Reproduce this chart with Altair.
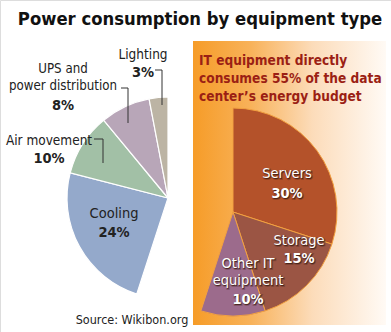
import altair as alt
import pandas as pd

# ---- data ----
categories = ["Servers", "Storage", "Other IT equipment", "Cooling",
              "Air movement", "UPS and power distribution", "Lighting"]
shares = [30, 15, 10, 24, 10, 8, 3]
groups = ["IT", "IT", "IT", "Other", "Other", "Other", "Other"]
name_lines = [["Servers"], ["Storage"], ["Other IT", "equipment"], ["Cooling"],
              ["Air movement"], ["UPS and", "power distribution"], ["Lighting"]]
title_text = "Power consumption by equipment type"
panel_lines = ["IT equipment directly", "consumes 55% of the data",
               "center\u2019s energy budget"]
source_text = "Source: Wikibon.org"

# ---- styles / layout ----
colors = ["#b4522a", "#9b5544", "#9c6b8c", "#94a9cb", "#a2c0a6", "#b8a6b8", "#bcb4a4"]
FONT = "'DejaVu Sans Condensed', 'Liberation Sans Narrow', 'Roboto Condensed', 'Arial Narrow', 'Liberation Sans', sans-serif"
centers = {"Other": (168, 198, 101), "IT": (233, 212, 104)}
label_pos = {  # cx, first baseline, line step, pct baseline, name size
    "Servers": (287, 178, 18, 198, 14.5),
    "Storage": (299, 245, 18, 263, 14.5),
    "Other IT equipment": (248, 268, 17, 304, 14.5),
    "Cooling": (114, 218, 18, 237, 14.5),
    "Air movement": (49, 145, 18, 163, 13.5),
    "UPS and power distribution": (63, 73, 17, 110, 13.2),
    "Lighting": (143, 59, 18, 77, 13.5),
}
leaders = [
    (155, 162, 70, 105),
    (121, 128, 88, 123),
    (94, 103, 139, 163),
]

df = pd.DataFrame({"category": categories, "share": shares, "group": groups,
                   "order": list(range(len(categories)))})

theta_scale = alt.Scale(domain=[0, 100], range=[0, 6.283185307])
color_scale = alt.Scale(domain=categories, range=colors)

base = alt.Chart(df).transform_window(
    end="sum(share)", sort=[alt.SortField("order")], frame=[None, 0]
).transform_calculate(start="datum.end - datum.share")

one = pd.DataFrame({"a": [0]})
layers = []

panel = alt.Chart(one).mark_rect(
    fill=alt.LinearGradient(
        gradient="linear", x1=0, x2=1, y1=0, y2=0,
        stops=[alt.GradientStop(offset=0, color="#f69c28"),
               alt.GradientStop(offset=0.3, color="#f8b25a"),
               alt.GradientStop(offset=0.62, color="#fcdcba"),
               alt.GradientStop(offset=1, color="#fffaf5")]),
).encode(x=alt.value(193), x2=alt.value(386), y=alt.value(41), y2=alt.value(325))
layers.append(panel)

for g, (cx, cy, r) in centers.items():
    arc = base.transform_filter(alt.datum.group == g).mark_arc(
        radius=r, stroke="white" if g == "Other" else "#f2a040",
        strokeWidth=1.2 if g == "Other" else 1.0,
    ).encode(
        theta=alt.Theta("start:Q", scale=theta_scale),
        theta2="end:Q",
        color=alt.Color("category:N", scale=color_scale, legend=None),
        x=alt.value(cx), y=alt.value(cy),
    )
    layers.append(arc)

for x1, x2, y, y2 in leaders:
    layers.append(alt.Chart(one).mark_rule(color="#333333", strokeWidth=1).encode(
        x=alt.value(x1), x2=alt.value(x2), y=alt.value(y), y2=alt.value(y)))
    layers.append(alt.Chart(one).mark_rule(color="#333333", strokeWidth=1).encode(
        x=alt.value(x2), x2=alt.value(x2), y=alt.value(y), y2=alt.value(y2)))


def text_layer(txt, x, y, size, bold=False, color="#222222", align="center", shadow=False):
    out = []
    if shadow:
        out.append(alt.Chart(one).mark_text(
            text=txt, font=FONT, fontSize=size, fontWeight="bold" if bold else "normal",
            align=align, baseline="alphabetic", color="#3a1a10", opacity=0.8,
            stroke="#3a1a10", strokeWidth=2, strokeOpacity=0.35,
        ).encode(x=alt.value(x + 0.8), y=alt.value(y + 0.8)))
    out.append(alt.Chart(one).mark_text(
        text=txt, font=FONT, fontSize=size, fontWeight="bold" if bold else "normal",
        align=align, baseline="alphabetic", color=color,
    ).encode(x=alt.value(x), y=alt.value(y)))
    return out


for cat, share, grp, lines in zip(categories, shares, groups, name_lines):
    lx, ly, step, py, fs = label_pos[cat]
    is_it = grp == "IT"
    col = "white" if is_it else "#222222"
    for i, ln in enumerate(lines):
        layers += text_layer(ln, lx, ly + i * step, fs, False, col, shadow=is_it)
    layers += text_layer(f"{share}%", lx, py, 14.5, True, col, shadow=is_it)

layers += text_layer(title_text, 200, 25, 18.3, True, "#111111")
for i, ln in enumerate(panel_lines):
    layers += text_layer(ln, 199, 65 + i * 18, 13.6, True, "#9b1f14", align="left")
layers += text_layer(source_text, 132, 324, 12.5, False, "#222222")

chart = alt.layer(*layers).properties(
    width=391, height=332, padding=0, autosize=alt.AutoSizeParams(type="none")
).configure_view(stroke=None).configure(background="white")

chart.save("out.html", embed_options={"renderer": "svg", "actions": False})
